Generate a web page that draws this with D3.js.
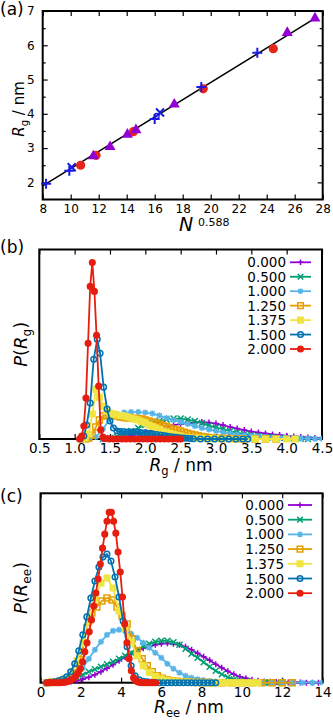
<!DOCTYPE html>
<html>
<head>
<meta charset="utf-8">
<script src="https://cdnjs.cloudflare.com/ajax/libs/d3/7.8.5/d3.min.js"></script>
<style>
body { margin: 0; background: #fff; }
svg text { font-family: "DejaVu Sans", sans-serif; fill: #000; }
</style>
</head>
<body>
<div id="chart"></div>
<script>
// ---------- Panel (a): Rg vs N^0.588 ----------
var aRedX = [10.71, 11.81, 14.47, 19.47, 24.47];
var aRedY = [2.50, 2.79, 3.48, 4.73, 5.90];
var aTriX = [11.62, 12.81, 14.05, 14.66, 17.40, 25.47, 27.45];
var aTriY = [2.77, 3.04, 3.40, 3.53, 4.28, 6.37, 6.79];
var aPlusX = [8.24, 9.90, 16.00, 19.33, 23.33];
var aPlusY = [1.96, 2.34, 3.85, 4.78, 5.78];
var aCrossX = [10.07, 16.38];
var aCrossY = [2.44, 4.04];
var aRingX = [16.14];
var aRingY = [3.94];
var aFitX = [8.0, 27.5];
var aFitY = [1.90, 6.80];
var aXTicks = [8, 10, 12, 14, 16, 18, 20, 22, 24, 26, 28];
var aYTicks = [2, 3, 4, 5, 6, 7];

// ---------- legend labels (b) and (c) ----------
var cnLabels = ["0.000", "0.500", "1.000", "1.250", "1.375", "1.500", "2.000"];

// ---------- Panel (b): P(Rg) ----------
var rg000 = [[1.40,0],[1.50,0.005],[1.60,0.01],[1.70,0.02],[1.80,0.035],[1.90,0.05],[2.00,0.07],[2.10,0.09],[2.20,0.11],[2.30,0.125],[2.40,0.14],[2.50,0.15],[2.60,0.16],[2.70,0.165],[2.80,0.17],[2.90,0.165],[3.00,0.155],[3.10,0.14],[3.20,0.12],[3.30,0.105],[3.40,0.09],[3.50,0.075],[3.60,0.065],[3.70,0.055],[3.80,0.045],[3.90,0.04],[4.00,0.03],[4.10,0.025],[4.20,0.02],[4.30,0.015],[4.40,0.01],[4.50,0.007]];
var rg050 = [[1.40,0],[1.50,0.01],[1.60,0.02],[1.70,0.05],[1.80,0.08],[1.90,0.11],[2.00,0.14],[2.10,0.16],[2.20,0.18],[2.30,0.195],[2.40,0.205],[2.50,0.205],[2.60,0.195],[2.70,0.18],[2.80,0.16],[2.90,0.135],[3.00,0.115],[3.10,0.10],[3.20,0.08],[3.30,0.065],[3.40,0.05],[3.50,0.04],[3.60,0.03],[3.70,0.022],[3.80,0.016],[3.90,0.011],[4.00,0.008],[4.10,0.005],[4.20,0.003],[4.30,0]];
var rg100 = [[1.20,0],[1.30,0.02],[1.40,0.10],[1.50,0.20],[1.60,0.25],[1.70,0.265],[1.80,0.27],[1.90,0.27],[2.00,0.265],[2.10,0.255],[2.20,0.235],[2.30,0.21],[2.40,0.19],[2.50,0.17],[2.60,0.15],[2.70,0.13],[2.80,0.11],[2.90,0.095],[3.00,0.08],[3.10,0.066],[3.20,0.054],[3.30,0.045],[3.40,0.036],[3.50,0.03],[3.60,0.024],[3.70,0.019],[3.80,0.015],[3.90,0.012],[4.00,0.01],[4.10,0.008],[4.20,0.006],[4.30,0.005],[4.40,0.003],[4.50,0.002]];
var rg125 = [[1.15,0],[1.20,0.01],[1.25,0.04],[1.30,0.12],[1.35,0.19],[1.40,0.23],[1.45,0.24],[1.50,0.24],[1.55,0.235],[1.60,0.23],[1.65,0.22],[1.70,0.215],[1.75,0.21],[1.80,0.21],[1.85,0.205],[1.90,0.205],[1.95,0.20],[2.00,0.19],[2.05,0.18],[2.10,0.17],[2.15,0.16],[2.20,0.15],[2.25,0.135],[2.30,0.125],[2.35,0.11],[2.40,0.10],[2.45,0.09],[2.50,0.08],[2.55,0.068],[2.60,0.057],[2.65,0.048],[2.70,0.04],[2.75,0.032],[2.80,0.026],[2.85,0.02],[2.90,0.016],[3.00,0.01],[3.10,0.007],[3.20,0.004],[3.30,0.002],[3.40,0.001],[3.55,0],[3.70,0],[3.85,0]];
var rg1375 = [[1.10,0],[1.15,0.01],[1.20,0.05],[1.25,0.25],[1.30,0.50],[1.35,0.42],[1.40,0.33],[1.45,0.28],[1.50,0.26],[1.55,0.25],[1.60,0.24],[1.65,0.235],[1.70,0.23],[1.75,0.22],[1.80,0.21],[1.85,0.20],[1.90,0.19],[1.95,0.175],[2.00,0.16],[2.05,0.14],[2.10,0.125],[2.15,0.11],[2.20,0.095],[2.25,0.08],[2.30,0.065],[2.35,0.055],[2.40,0.045],[2.45,0.035],[2.50,0.027],[2.55,0.02],[2.60,0.015],[2.70,0.01],[2.80,0.007],[2.90,0.004],[3.00,0.002],[3.10,0],[3.25,0],[3.40,0],[3.55,0],[3.70,0],[3.85,0],[4.00,0],[4.12,0]];
var rg150 = [[1.08,0],[1.13,0.03],[1.17,0.14],[1.22,0.36],[1.27,0.80],[1.32,1.00],[1.36,0.86],[1.41,0.52],[1.46,0.30],[1.50,0.18],[1.55,0.11],[1.60,0.08],[1.64,0.075],[1.69,0.075],[1.74,0.07],[1.79,0.07],[1.83,0.07],[1.88,0.07],[1.93,0.065],[1.97,0.06],[2.02,0.06],[2.07,0.055],[2.11,0.05],[2.16,0.045],[2.21,0.04],[2.26,0.035],[2.30,0.03],[2.35,0.025],[2.40,0.02],[2.44,0.017],[2.49,0.013],[2.54,0.01],[2.58,0.007],[2.63,0.005],[2.68,0.003],[2.78,0],[2.88,0],[2.98,0],[3.08,0],[3.18,0],[3.28,0],[3.38,0],[3.45,0]];
var rg200 = [[1.07,0],[1.10,0.03],[1.13,0.13],[1.16,0.41],[1.19,0.96],[1.22,1.53],[1.25,1.77],[1.28,1.48],[1.31,1.04],[1.34,0.53],[1.37,0.09],[1.40,0.02],[1.43,0.005],[1.49,0],[1.55,0],[1.61,0],[1.67,0],[1.73,0],[1.79,0],[1.85,0],[1.91,0],[1.97,0],[2.03,0],[2.09,0],[2.15,0],[2.21,0],[2.27,0],[2.33,0],[2.39,0],[2.45,0],[2.50,0]];
var rgTicks = [0.5, 1.0, 1.5, 2.0, 2.5, 3.0, 3.5, 4.0, 4.5];

// ---------- Panel (c): P(Ree) ----------
var ree000 = [[0.3,0],[0.6,0.001],[0.9,0.003],[1.2,0.006],[1.5,0.01],[1.8,0.02],[2.1,0.035],[2.4,0.055],[2.7,0.08],[3.0,0.11],[3.3,0.145],[3.6,0.18],[3.9,0.22],[4.2,0.255],[4.5,0.29],[4.8,0.32],[5.1,0.345],[5.4,0.365],[5.7,0.38],[6.0,0.39],[6.3,0.395],[6.6,0.39],[6.9,0.38],[7.2,0.36],[7.5,0.33],[7.8,0.295],[8.1,0.26],[8.4,0.225],[8.7,0.185],[9.0,0.15],[9.3,0.115],[9.6,0.085],[9.9,0.06],[10.2,0.045],[10.5,0.03],[10.8,0.02],[11.1,0.013],[11.4,0.009],[11.7,0.006],[12.0,0.004],[12.3,0.003],[12.6,0.002],[12.9,0.001],[13.2,0.0005],[13.5,0],[13.8,0]];
var ree050 = [[0.3,0],[0.6,0.005],[0.9,0.012],[1.2,0.025],[1.5,0.04],[1.8,0.055],[2.1,0.08],[2.4,0.11],[2.7,0.135],[3.0,0.16],[3.3,0.185],[3.6,0.21],[3.9,0.24],[4.2,0.27],[4.5,0.30],[4.8,0.33],[5.1,0.365],[5.4,0.39],[5.7,0.41],[6.0,0.42],[6.3,0.42],[6.6,0.405],[6.9,0.38],[7.2,0.34],[7.5,0.29],[7.8,0.25],[8.1,0.205],[8.4,0.16],[8.7,0.12],[9.0,0.085],[9.3,0.055],[9.6,0.035],[9.9,0.02],[10.2,0.012],[10.5,0.007],[10.8,0.004],[11.1,0.002],[11.4,0.001],[11.7,0],[12.0,0]];
var ree100 = [[0.3,0],[0.6,0.003],[0.9,0.008],[1.2,0.02],[1.5,0.04],[1.8,0.08],[2.1,0.15],[2.4,0.24],[2.7,0.33],[3.0,0.41],[3.3,0.48],[3.6,0.52],[3.9,0.53],[4.2,0.52],[4.5,0.49],[4.8,0.45],[5.1,0.40],[5.4,0.35],[5.7,0.30],[6.0,0.25],[6.3,0.19],[6.6,0.14],[6.9,0.10],[7.2,0.07],[7.5,0.05],[7.8,0.035],[8.1,0.025],[8.4,0.017],[8.7,0.012],[9.0,0.008],[9.5,0.005],[10.0,0.003],[10.5,0.002],[11.0,0.001],[11.5,0],[12.0,0],[12.5,0],[13.0,0],[13.5,0],[14.0,0]];
var ree125 = [[0.3,0],[0.55,0.004],[0.8,0.01],[1.05,0.02],[1.3,0.035],[1.55,0.07],[1.8,0.14],[2.05,0.29],[2.3,0.55],[2.55,0.70],[2.8,0.76],[3.05,0.82],[3.3,0.85],[3.55,0.83],[3.8,0.76],[4.05,0.67],[4.3,0.59],[4.55,0.44],[4.8,0.32],[5.05,0.24],[5.3,0.17],[5.55,0.11],[5.8,0.07],[6.05,0.045],[6.3,0.03],[6.55,0.02],[6.8,0.014],[7.05,0.01],[7.3,0.007],[7.55,0.005],[7.8,0.003],[8.05,0.002],[8.3,0.001],[8.55,0],[9.0,0],[9.5,0],[10.0,0],[10.5,0],[11.0,0],[11.5,0],[12.0,0],[12.5,0]];
var ree1375 = [[0.3,0],[0.6,0.005],[0.9,0.015],[1.2,0.04],[1.5,0.10],[1.8,0.22],[2.1,0.40],[2.4,0.62],[2.7,0.84],[3.0,1.00],[3.3,1.05],[3.6,0.95],[3.9,0.72],[4.2,0.55],[4.5,0.41],[4.8,0.27],[5.1,0.17],[5.4,0.105],[5.7,0.065],[6.0,0.04],[6.3,0.025],[6.6,0.016],[6.9,0.01],[7.2,0.006],[7.5,0.004],[7.8,0.002],[8.1,0],[8.4,0],[8.7,0],[9.0,0],[9.3,0],[9.6,0],[9.9,0],[10.2,0],[10.5,0],[10.8,0]];
var ree150 = [[0.3,0],[0.5,0.005],[0.7,0.01],[0.9,0.02],[1.1,0.035],[1.3,0.06],[1.5,0.11],[1.7,0.19],[1.9,0.32],[2.1,0.48],[2.3,0.66],[2.5,0.85],[2.7,1.02],[2.9,1.16],[3.1,1.26],[3.3,1.29],[3.5,1.22],[3.7,1.06],[3.9,0.86],[4.1,0.62],[4.3,0.36],[4.5,0.17],[4.7,0.07],[4.9,0.03],[5.1,0.015],[5.3,0.01],[5.5,0.005],[5.7,0.002],[5.9,0],[6.1,0],[6.3,0],[6.5,0],[6.7,0],[6.9,0],[7.1,0],[7.3,0],[7.5,0],[7.7,0],[7.9,0],[8.1,0],[8.3,0],[8.5,0],[8.7,0]];
var ree200 = [[0.33,0],[0.44,0],[0.55,0],[0.66,0],[0.77,0],[0.88,0],[0.99,0],[1.10,0.002],[1.21,0.005],[1.32,0.01],[1.43,0.02],[1.54,0.03],[1.65,0.045],[1.76,0.07],[1.87,0.10],[1.98,0.14],[2.09,0.21],[2.20,0.31],[2.31,0.40],[2.42,0.51],[2.53,0.63],[2.64,0.77],[2.75,0.90],[2.86,1.04],[2.97,1.19],[3.08,1.35],[3.19,1.49],[3.30,1.62],[3.41,1.71],[3.52,1.71],[3.63,1.62],[3.74,1.50],[3.85,1.31],[3.96,1.11],[4.07,0.86],[4.18,0.59],[4.29,0.40],[4.40,0.24],[4.51,0.12],[4.62,0.05],[4.73,0.02],[4.84,0.008],[4.95,0.003],[5.06,0],[5.17,0],[5.28,0],[5.39,0],[5.50,0],[5.61,0],[5.72,0]];
var reeTicks = [0, 2, 4, 6, 8, 10, 12, 14];

// series styles (gnuplot default colours / point types)
var colors = ["#9400d3", "#009e73", "#56b4e9", "#e69f00", "#f0e442", "#0072b2", "#e51e10"];
var markers = ["plus", "cross", "star", "square", "square", "circle", "circle"];
var filled = [false, false, false, false, true, false, true];

var svgWidth = 333;
var svgHeight = 720;

var svg = d3.select("#chart")
    .append("svg")
    .attr("width", svgWidth)
    .attr("height", svgHeight);

// marker shapes centred on 0,0
function markerPath(type, s) {
    if (type === "plus") return `M${-s},0H${s}M0,${-s}V${s}`;
    if (type === "cross") return `M${-s},${-s}L${s},${s}M${-s},${s}L${s},${-s}`;
    if (type === "star") {
        var k = s * 0.75;
        return `M${-s},0H${s}M0,${-s}V${s}M${-k},${-k}L${k},${k}M${-k},${k}L${k},${-k}`;
    }
    if (type === "square") return `M${-s},${-s}H${s}V${s}H${-s}Z`;
    if (type === "triangle") return `M0,${-s * 1.15}L${s},${s * 0.6}L${-s},${s * 0.6}Z`;
    return `M${s},0A${s},${s} 0 1,1 ${-s},0A${s},${s} 0 1,1 ${s},0Z`;
}

function styleMarker(sel, type, color, isFilled, sw) {
    var open = (type === "plus" || type === "cross" || type === "star");
    sel.attr("fill", (isFilled && !open) ? color : "none")
        .attr("stroke", color)
        .attr("stroke-width", sw);
}

// text with italic symbol + subscript, e.g. R_g
function labelText(sel, parts) {
    parts.forEach(function(p) {
        var t = sel.append("tspan").text(p.t);
        if (p.i) t.attr("font-style", "italic");
        if (p.sub) t.attr("font-size", p.sub).attr("dy", p.dy);
        if (p.back) t.attr("dy", p.back);
    });
}

// ===================== Panel (a) =====================
var aBox = { left: 42.7, right: 322.7, top: 11, bottom: 199.5 };
var ax = d3.scaleLinear().domain([8, 28]).range([aBox.left, aBox.right]);
var ay = d3.scaleLinear().domain([1.5, 7]).range([aBox.bottom, aBox.top]);
var aGroup = svg.append("g");
var aFont = "Liberation Sans, Arial, sans-serif";

aGroup.append("g")
    .attr("transform", `translate(0, ${aBox.bottom})`)
    .call(d3.axisBottom(ax).tickValues(aXTicks).tickSize(-5).tickPadding(5).tickFormat(d3.format("d")))
    .call(g => g.select(".domain").remove())
    .selectAll("text").attr("font-family", aFont).attr("font-size", 12);
aGroup.append("g")
    .attr("transform", `translate(0, ${aBox.top})`)
    .call(d3.axisTop(ax).tickValues(aXTicks).tickSize(-5).tickFormat(""))
    .call(g => g.select(".domain").remove());
aGroup.append("g")
    .attr("transform", `translate(${aBox.left}, 0)`)
    .call(d3.axisLeft(ay).tickValues(aYTicks).tickSize(-5).tickPadding(8).tickFormat(d3.format("d")))
    .call(g => g.select(".domain").remove())
    .selectAll("text").attr("font-family", aFont).attr("font-size", 12);
aGroup.append("g")
    .attr("transform", `translate(${aBox.right}, 0)`)
    .call(d3.axisRight(ay).tickValues(aYTicks).tickSize(-5).tickFormat(""))
    .call(g => g.select(".domain").remove());
// half-unit minor ticks on y
aGroup.append("g")
    .attr("transform", `translate(${aBox.left}, 0)`)
    .call(d3.axisLeft(ay).tickValues([2.5, 3.5, 4.5, 5.5, 6.5]).tickSize(-3).tickFormat(""))
    .call(g => g.select(".domain").remove());
aGroup.append("g")
    .attr("transform", `translate(${aBox.right}, 0)`)
    .call(d3.axisRight(ay).tickValues([2.5, 3.5, 4.5, 5.5, 6.5]).tickSize(-3).tickFormat(""))
    .call(g => g.select(".domain").remove());
aGroup.selectAll(".tick line").attr("stroke-width", 1.2);

aGroup.append("rect")
    .attr("x", aBox.left).attr("y", aBox.top)
    .attr("width", aBox.right - aBox.left).attr("height", aBox.bottom - aBox.top)
    .attr("fill", "none").attr("stroke", "#000").attr("stroke-width", 2);

// fit line
aGroup.append("path")
    .datum(d3.zip(aFitX, aFitY))
    .attr("d", d3.line().x(d => ax(d[0])).y(d => ay(d[1])))
    .attr("stroke", "#000").attr("stroke-width", 1.5).attr("fill", "none");

var aBlue = "#1a1ae0";
function aPoints(xs, ys, type, color, isFilled, size, sw) {
    aGroup.append("g").selectAll("path")
        .data(d3.zip(xs, ys))
        .enter()
        .append("path")
        .attr("transform", d => `translate(${ax(d[0])}, ${ay(d[1])})`)
        .attr("d", markerPath(type, size))
        .call(styleMarker, type, color, isFilled, sw);
}
aPoints(aRedX, aRedY, "circle", "#e8251a", true, 4.6, 0);
aPoints(aTriX, aTriY, "triangle", "#9400d3", true, 5.5, 0);
aPoints(aPlusX, aPlusY, "plus", aBlue, false, 5, 2);
aPoints(aCrossX, aCrossY, "cross", aBlue, false, 4, 2);
aPoints(aRingX, aRingY, "circle", aBlue, false, 2.5, 1.3);

svg.append("text").attr("x", 0).attr("y", 15).attr("font-size", 17).text("(a)");

var aXLabel = svg.append("text").attr("font-family", aFont);
aXLabel.append("tspan").attr("x", 179).attr("y", 231).attr("font-size", 19).attr("font-style", "italic").text("N");
aXLabel.append("tspan").attr("x", 198).attr("y", 225.5).attr("font-size", 11).text("0.588");

var aYLabel = svg.append("text")
    .attr("transform", "translate(24, 109) rotate(-90)")
    .attr("text-anchor", "middle")
    .attr("font-family", aFont)
    .attr("font-size", 15);
labelText(aYLabel, [{ t: "R", i: true }, { t: "g", sub: 10, dy: 3.5 }, { t: " / nm", back: -3.5 }]);

// ===================== Panels (b) and (c) =====================
function drawHist(p) {
    var g = svg.append("g");
    var x = d3.scaleLinear().domain(p.xDomain).range([p.left, p.right]);
    var y = d3.scaleLinear().domain([0, 1.9]).range([p.bottom, p.top]);

    g.append("g")
        .attr("transform", `translate(0, ${p.bottom})`)
        .call(d3.axisBottom(x).tickValues(p.ticks).tickSize(-5).tickPadding(4.5).tickFormat(p.fmt))
        .call(s => s.select(".domain").remove())
        .selectAll("text").attr("font-size", 13.5);
    g.append("g")
        .attr("transform", `translate(0, ${p.top})`)
        .call(d3.axisTop(x).tickValues(p.ticks).tickSize(-5).tickFormat(""))
        .call(s => s.select(".domain").remove());
    g.selectAll(".tick line").attr("stroke-width", 1.2);

    g.append("rect")
        .attr("x", p.left).attr("y", p.top)
        .attr("width", p.right - p.left).attr("height", p.bottom - p.top)
        .attr("fill", "none").attr("stroke", "#000").attr("stroke-width", 2);

    svg.append("clipPath").attr("id", "clip" + p.name)
        .append("rect")
        .attr("x", p.left).attr("y", p.top)
        .attr("width", p.right - p.left).attr("height", p.bottom - p.top + 5);

    var line = d3.line().x(d => x(d[0])).y(d => y(d[1]));
    var plot = g.append("g").attr("clip-path", `url(#clip${p.name})`);

    p.series.forEach(function(s, i) {
        var sg = plot.append("g");
        sg.append("path")
            .datum(s)
            .attr("d", line)
            .attr("fill", "none")
            .attr("stroke", colors[i])
            .attr("stroke-width", 1.8);
        sg.selectAll("path.pt")
            .data(s)
            .enter()
            .append("path")
            .attr("class", "pt")
            .attr("transform", d => `translate(${x(d[0])}, ${y(d[1])})`)
            .attr("d", markerPath(markers[i], filled[i] || markers[i] === "circle" ? 2.8 : 3))
            .call(styleMarker, markers[i], colors[i], filled[i], 1.5);
    });

    // legend
    var lg = g.append("g");
    cnLabels.forEach(function(lab, i) {
        var yy = p.legTop + i * p.legStep;
        lg.append("text")
            .attr("x", p.legText).attr("y", yy + 5)
            .attr("text-anchor", "end")
            .attr("font-size", 13.5)
            .text(lab);
        lg.append("line")
            .attr("x1", p.legLine[0]).attr("x2", p.legLine[1])
            .attr("y1", yy).attr("y2", yy)
            .attr("stroke", colors[i]).attr("stroke-width", 1.8);
        lg.append("path")
            .attr("transform", `translate(${(p.legLine[0] + p.legLine[1]) / 2}, ${yy})`)
            .attr("d", markerPath(markers[i], 2.8))
            .call(styleMarker, markers[i], colors[i], filled[i], 1.5);
    });

    svg.append("text").attr("x", 0).attr("y", p.tagY).attr("font-size", 17).text(p.tag);

    var xl = svg.append("text")
        .attr("x", p.xLabelX).attr("y", p.xLabelY)
        .attr("text-anchor", "middle")
        .attr("font-size", 17);
    labelText(xl, [{ t: "R", i: true }, { t: p.sub, sub: 11.5, dy: 3.5 }, { t: " / nm", back: -3.5 }]);

    var yl = svg.append("text")
        .attr("transform", `translate(27, ${(p.top + p.bottom) / 2}) rotate(-90)`)
        .attr("text-anchor", "middle")
        .attr("font-size", 18);
    labelText(yl, [{ t: "P", i: true }, { t: "(" }, { t: "R", i: true }, { t: p.sub, sub: 12, dy: 3.5 }, { t: ")", back: -3.5 }]);
}

drawHist({
    name: "b", tag: "(b)", tagY: 253, sub: "g",
    left: 39.3, right: 322, top: 249.5, bottom: 439,
    xDomain: [0.5, 4.5], ticks: rgTicks, fmt: d3.format(".1f"),
    series: [rg000, rg050, rg100, rg125, rg1375, rg150, rg200],
    legTop: 262.3, legStep: 14.45, legText: 286, legLine: [290, 311],
    xLabelX: 181, xLabelY: 471
});

drawHist({
    name: "c", tag: "(c)", tagY: 502, sub: "ee",
    left: 40.5, right: 322.5, top: 493.3, bottom: 682.7,
    xDomain: [0, 14], ticks: reeTicks, fmt: d3.format("d"),
    series: [ree000, ree050, ree100, ree125, ree1375, ree150, ree200],
    legTop: 505, legStep: 14.7, legText: 284, legLine: [288, 312],
    xLabelX: 189, xLabelY: 713
});
</script>
</body>
</html>
